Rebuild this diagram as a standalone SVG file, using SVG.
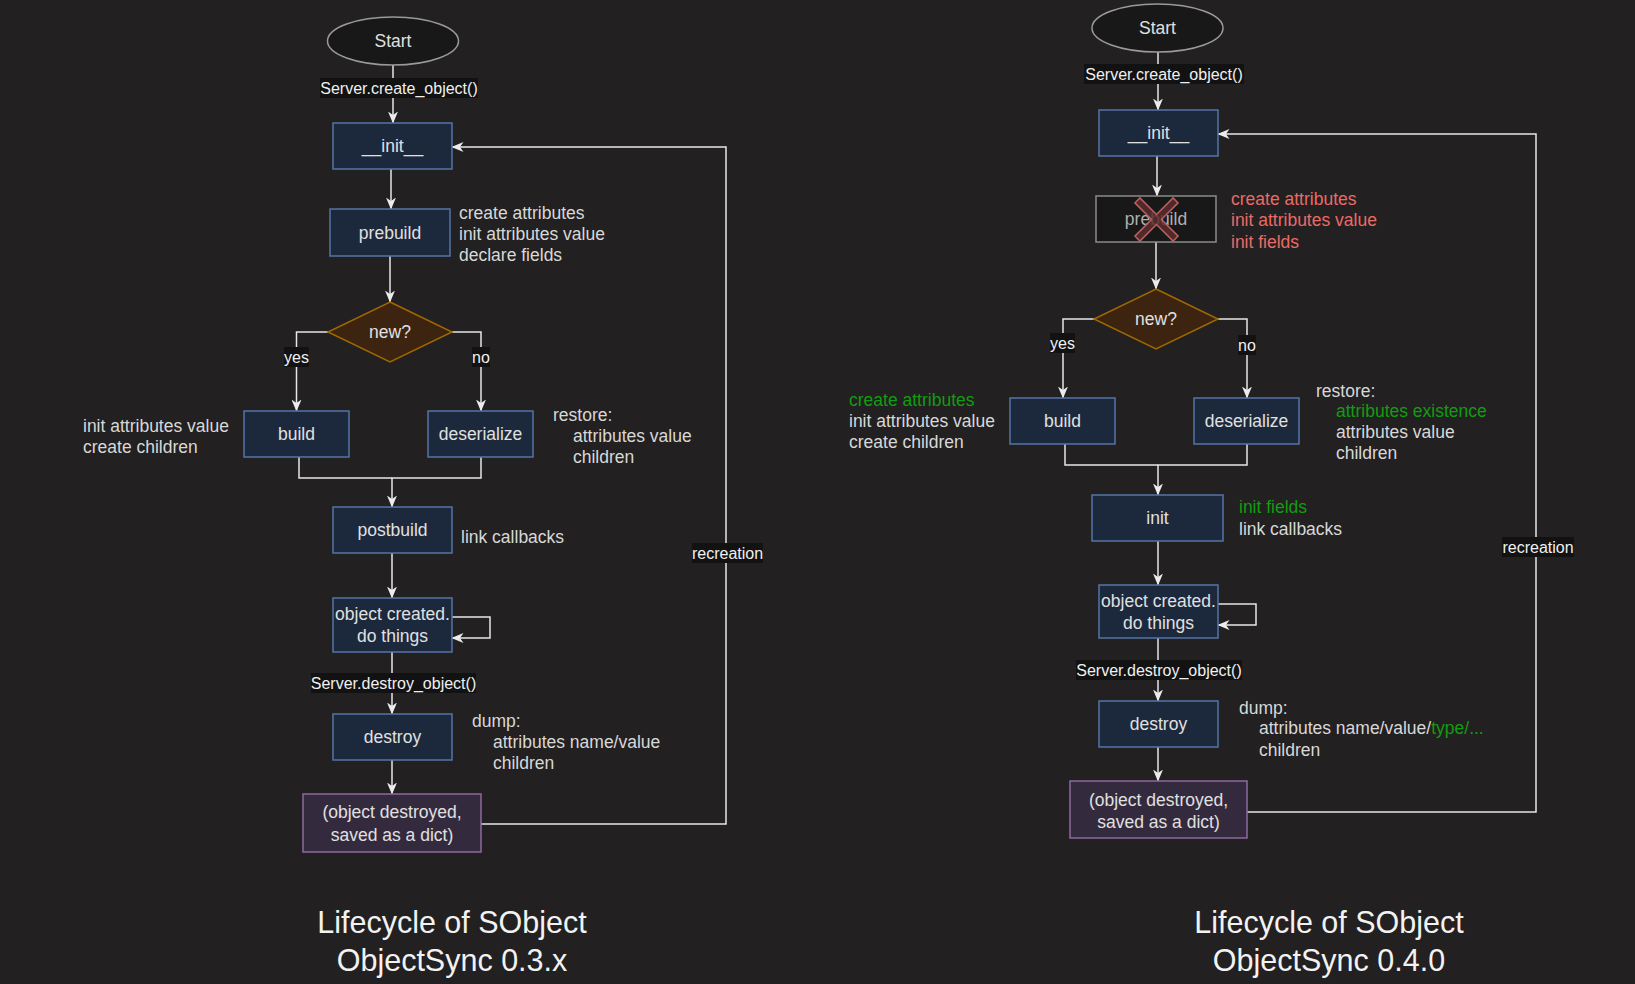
<svg xmlns="http://www.w3.org/2000/svg" width="1635" height="984" viewBox="0 0 1635 984">
<defs>
<marker id="arr" viewBox="0 0 12 10" refX="11.5" refY="5" markerWidth="12" markerHeight="10" orient="auto" markerUnits="userSpaceOnUse">
<path d="M0,0 L12,5 L0,10 L3.5,5 z" fill="#ececec"/>
</marker>
<style>
text{font-family:"Liberation Sans",Arial,Helvetica,sans-serif;}
.n{font-size:17.5px;fill:#e0e0e0;text-anchor:middle;}
.a{font-size:17.5px;fill:#d8d8d8;}
.g{fill:#119d11;}
.r{fill:#ea6b66;}
.el{font-size:16px;fill:#f0f0f0;text-anchor:middle;}
.lb{fill:#121212;}
.t{font-size:30.5px;fill:#f2f2f2;text-anchor:middle;}
.box{fill:#1c283c;stroke:#5474a6;stroke-width:1.5;}
.dia{fill:#3c2410;stroke:#a06800;stroke-width:1.5;}
.pur{fill:#342a3e;stroke:#8c6aa0;stroke-width:1.5;}
.ell{fill:#181818;stroke:#9a9a9a;stroke-width:1.5;}
.e{fill:none;stroke:#e6e6e6;stroke-width:1.5;}
.ea{fill:none;stroke:#e6e6e6;stroke-width:1.5;marker-end:url(#arr);}
</style>
</defs>
<rect x="0" y="0" width="1635" height="984" fill="#222020"/>

<g id="connectors">
<!-- left -->
<path class="ea" d="M393,65 L393,123"/>
<path class="ea" d="M391,169 L391,209"/>
<path class="ea" d="M390,256 L390,302"/>
<path class="ea" d="M328,332 L296.5,332 L296.5,411"/>
<path class="ea" d="M452,332 L481,332 L481,411"/>
<path class="e" d="M299,457 L299,478 L392,478"/>
<path class="ea" d="M481,457 L481,478 L392,478 L392,507"/>
<path class="ea" d="M392,553 L392,598"/>
<path class="ea" d="M452,617 L490,617 L490,638 L452,638"/>
<path class="ea" d="M392,652 L392,714"/>
<path class="ea" d="M392,760 L392,794"/>
<path class="ea" d="M481,824 L726,824 L726,147 L452,147"/>
<!-- right -->
<path class="ea" d="M1158,52 L1158,110"/>
<path class="ea" d="M1157,156 L1157,196"/>
<path class="ea" d="M1156,242 L1156,289"/>
<path class="ea" d="M1094,319 L1063,319 L1063,398"/>
<path class="ea" d="M1218,319 L1247,319 L1247,398"/>
<path class="e" d="M1065,444 L1065,465 L1158,465"/>
<path class="ea" d="M1247,444 L1247,465 L1158,465 L1158,495"/>
<path class="ea" d="M1158,541 L1158,585"/>
<path class="ea" d="M1218,604 L1256,604 L1256,625 L1218,625"/>
<path class="ea" d="M1158,638 L1158,701"/>
<path class="ea" d="M1158,747 L1158,781"/>
<path class="ea" d="M1247,812 L1536,812 L1536,134 L1218,134"/>
<!-- edge labels -->
<rect class="lb" x="320" y="78" width="158" height="20"/>
<text class="el" x="399" y="93.5">Server.create_object()</text>
<rect class="lb" x="284" y="347" width="25" height="20"/>
<text class="el" x="296.5" y="362.5">yes</text>
<rect class="lb" x="472" y="347" width="18" height="20"/>
<text class="el" x="481" y="362.5">no</text>
<rect class="lb" x="311" y="673" width="165" height="20"/>
<text class="el" x="393.5" y="688.5">Server.destroy_object()</text>
<rect class="lb" x="692" y="543" width="71" height="20"/>
<text class="el" x="727.5" y="558.5">recreation</text>
<rect class="lb" x="1084" y="64" width="160" height="20"/>
<text class="el" x="1164" y="79.5">Server.create_object()</text>
<rect class="lb" x="1050" y="333" width="25" height="20"/>
<text class="el" x="1062.5" y="348.5">yes</text>
<rect class="lb" x="1238" y="335" width="18" height="20"/>
<text class="el" x="1247" y="350.5">no</text>
<rect class="lb" x="1076" y="660" width="166" height="20"/>
<text class="el" x="1159" y="675.5">Server.destroy_object()</text>
<rect class="lb" x="1502" y="537" width="72" height="20"/>
<text class="el" x="1538" y="552.5">recreation</text>
</g>

<!-- LEFT diagram -->
<g id="l-start"><ellipse class="ell" cx="393" cy="41" rx="65.5" ry="24"/><text class="n" x="393" y="47">Start</text></g>
<g id="l-init"><rect class="box" x="333" y="123" width="119" height="46"/><text class="n" x="392.5" y="152">__init__</text></g>
<g id="l-prebuild"><rect class="box" x="330" y="209" width="120" height="47"/><text class="n" x="390" y="238.5">prebuild</text></g>
<g id="l-prebuild-note"><text class="a" x="459" y="219">create attributes</text><text class="a" x="459" y="240">init attributes value</text><text class="a" x="459" y="261">declare fields</text></g>
<g id="l-new"><polygon class="dia" points="390,302 452,332 390,362 328,332"/><text class="n" x="390" y="338">new?</text></g>
<g id="l-build"><rect class="box" x="244" y="411" width="105" height="46"/><text class="n" x="296.5" y="440">build</text></g>
<g id="l-build-note"><text class="a" x="83" y="432">init attributes value</text><text class="a" x="83" y="453">create children</text></g>
<g id="l-deserialize"><rect class="box" x="428" y="411" width="105" height="46"/><text class="n" x="480.5" y="440">deserialize</text></g>
<g id="l-deserialize-note"><text class="a" x="553" y="421">restore:</text><text class="a" x="573" y="442">attributes value</text><text class="a" x="573" y="463">children</text></g>
<g id="l-postbuild"><rect class="box" x="333" y="507" width="119" height="46"/><text class="n" x="392.5" y="536">postbuild</text></g>
<g id="l-postbuild-note"><text class="a" x="461" y="543">link callbacks</text></g>
<g id="l-created"><rect class="box" x="333" y="598" width="119" height="54"/><text class="n" x="392.5" y="620">object created.</text><text class="n" x="392.5" y="642">do things</text></g>
<g id="l-destroy"><rect class="box" x="333" y="714" width="119" height="46"/><text class="n" x="392.5" y="743">destroy</text></g>
<g id="l-destroy-note"><text class="a" x="472" y="727">dump:</text><text class="a" x="493" y="748">attributes name/value</text><text class="a" x="493" y="769">children</text></g>
<g id="l-destroyed"><rect class="pur" x="303" y="794" width="178" height="58"/><text class="n" x="392" y="818">(object destroyed,</text><text class="n" x="392" y="841">saved as a dict)</text></g>
<g id="l-title"><text class="t" x="452" y="933">Lifecycle of SObject</text><text class="t" x="452" y="971">ObjectSync 0.3.x</text></g>

<!-- RIGHT diagram -->
<g id="r-start"><ellipse class="ell" cx="1157.5" cy="28" rx="65.5" ry="24"/><text class="n" x="1157.5" y="34">Start</text></g>
<g id="r-init"><rect class="box" x="1099" y="110" width="119" height="46"/><text class="n" x="1158.5" y="139">__init__</text></g>
<g id="r-prebuild"><rect x="1096" y="196" width="120" height="46" fill="#181818" stroke="#8a8a8a" stroke-width="1.5"/><text class="n" x="1156" y="225" style="fill:#b0b0b0">prebuild</text>
<polygon transform="translate(1156.5,219.5) rotate(45)" points="3.5,-27 3.5,-3.5 27,-3.5 27,3.5 3.5,3.5 3.5,27 -3.5,27 -3.5,3.5 -27,3.5 -27,-3.5 -3.5,-3.5 -3.5,-27" fill="#5e2c2c" fill-opacity="0.85" stroke="#b86060" stroke-width="1.5"/></g>
<g id="r-prebuild-note"><text class="a r" x="1231" y="205">create attributes</text><text class="a r" x="1231" y="226">init attributes value</text><text class="a r" x="1231" y="248">init fields</text></g>
<g id="r-new"><polygon class="dia" points="1156,289 1218,319 1156,349 1094,319"/><text class="n" x="1156" y="325">new?</text></g>
<g id="r-build"><rect class="box" x="1010" y="398" width="105" height="46"/><text class="n" x="1062.5" y="427">build</text></g>
<g id="r-build-note"><text class="a g" x="849" y="406">create attributes</text><text class="a" x="849" y="427">init attributes value</text><text class="a" x="849" y="448">create children</text></g>
<g id="r-deserialize"><rect class="box" x="1194" y="398" width="105" height="46"/><text class="n" x="1246.5" y="427">deserialize</text></g>
<g id="r-deserialize-note"><text class="a" x="1316" y="397">restore:</text><text class="a g" x="1336" y="417">attributes existence</text><text class="a" x="1336" y="438">attributes value</text><text class="a" x="1336" y="459">children</text></g>
<g id="r-init2"><rect class="box" x="1092" y="495" width="131" height="46"/><text class="n" x="1157.5" y="524">init</text></g>
<g id="r-init2-note"><text class="a g" x="1239" y="513">init fields</text><text class="a" x="1239" y="535">link callbacks</text></g>
<g id="r-created"><rect class="box" x="1099" y="585" width="119" height="53"/><text class="n" x="1158.5" y="607">object created.</text><text class="n" x="1158.5" y="629">do things</text></g>
<g id="r-destroy"><rect class="box" x="1099" y="701" width="119" height="46"/><text class="n" x="1158.5" y="730">destroy</text></g>
<g id="r-destroy-note"><text class="a" x="1239" y="714">dump:</text><text class="a" x="1259" y="734">attributes name/value/<tspan class="g">type/...</tspan></text><text class="a" x="1259" y="756">children</text></g>
<g id="r-destroyed"><rect class="pur" x="1070" y="781" width="177" height="57"/><text class="n" x="1158.5" y="806">(object destroyed,</text><text class="n" x="1158.5" y="828">saved as a dict)</text></g>
<g id="r-title"><text class="t" x="1329" y="933">Lifecycle of SObject</text><text class="t" x="1329" y="971">ObjectSync 0.4.0</text></g>
</svg>
